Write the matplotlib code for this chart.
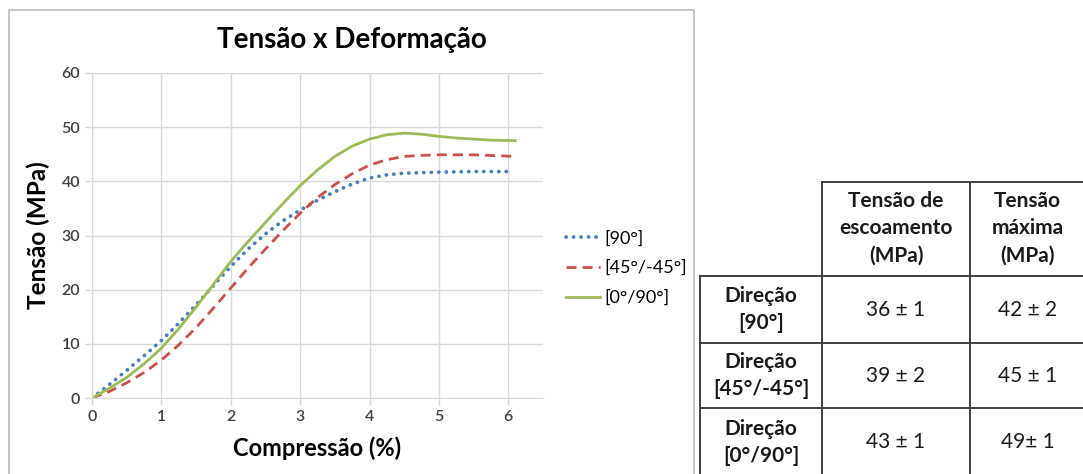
import matplotlib
matplotlib.use("Agg")
import matplotlib.pyplot as plt

plt.rcParams["font.family"] = ["Lato", "DejaVu Sans"]

# stress-strain curves (strain %, stress MPa)
x_90 = [0, 0.25, 0.5, 0.75, 1, 1.25, 1.5, 1.75, 2, 2.25, 2.5, 2.75, 3, 3.25,
        3.5, 3.75, 4, 4.25, 4.5, 5, 5.5, 6.05]
y_90 = [0, 2.5, 5.1, 7.8, 10.6, 13.8, 17.2, 20.8, 24.3, 27.5, 30.3, 32.7, 34.7,
        36.5, 38.1, 39.5, 40.6, 41.2, 41.5, 41.7, 41.8, 41.8]

x_45 = [0, 0.25, 0.5, 0.75, 1, 1.25, 1.5, 1.75, 2, 2.25, 2.5, 2.75, 3, 3.25,
        3.5, 3.75, 4, 4.25, 4.5, 4.75, 5, 5.5, 6.1]
y_45 = [0, 1.2, 2.8, 4.7, 7.0, 9.8, 13.0, 16.6, 20.3, 24.0, 27.5, 30.9, 34.1,
        37.0, 39.4, 41.4, 43.0, 44.0, 44.6, 44.8, 44.9, 44.9, 44.6]

x_0 = [0, 0.25, 0.5, 0.75, 1, 1.25, 1.5, 1.75, 2, 2.25, 2.5, 2.75, 3, 3.25,
       3.5, 3.75, 4, 4.25, 4.5, 4.75, 5, 5.25, 5.5, 5.75, 6.1]
y_0 = [0, 1.8, 3.8, 6.3, 9.2, 12.8, 16.8, 21.0, 25.2, 28.9, 32.4, 35.9, 39.2,
       42.1, 44.6, 46.5, 47.8, 48.6, 48.9, 48.7, 48.3, 48.0, 47.8, 47.6, 47.5]

series_labels = ["[90°]", "[45°/-45°]", "[0°/90°]"]

# table
col_headers = ["Tensão de\nescoamento\n(MPa)", "Tensão\nmáxima\n(MPa)"]
row_headers = ["Direção\n[90°]", "Direção\n[45°/-45°]", "Direção\n[0°/90°]"]
yield_vals = ["36 ± 1", "39 ± 2", "43 ± 1"]
max_vals = ["42 ± 2", "45 ± 1", "49± 1"]

W, H = 1083, 474
fig = plt.figure(figsize=(W / 100, H / 100), dpi=100)

# pixel overlay for the chart frame and the table
bg = fig.add_axes([0, 0, 1, 1], zorder=0)
bg.set_xlim(0, W)
bg.set_ylim(H, 0)
bg.axis("off")

bg.plot([9, 9, 694, 694], [H + 5, 10, 10, H + 5], color="#bfbfbf", lw=1.3)

# ---- chart ----
ax = fig.add_axes([92 / W, 1 - 398 / H, (543 - 92) / W, (398 - 73) / H], zorder=1)
ax.patch.set_alpha(0)
ax.plot(x_90, y_90, color="#4a7ebb", lw=2.7, linestyle=(0, (0.05, 1.95)),
        dash_capstyle="round", label=series_labels[0])
ax.plot(x_45, y_45, color="#c9504d", lw=2.0, linestyle=(0, (3.6, 2.2)),
        label=series_labels[1])
ax.plot(x_0, y_0, color="#9bbb59", lw=2.0, label=series_labels[2])

ax.set_xlim(0, 6.5)
ax.set_ylim(0, 60)
ax.set_xticks(range(0, 7))
ax.set_yticks(range(0, 61, 10))
ax.grid(True, color="#d9d9d9", lw=1.0)
for s in ("top", "right"):
    ax.spines[s].set_visible(False)
for s in ("left", "bottom"):
    ax.spines[s].set_color("#d9d9d9")
ax.tick_params(colors="#d9d9d9", labelcolor="#404040", labelsize=11.5,
               length=5, width=1)
for lbl in ax.get_xticklabels() + ax.get_yticklabels():
    lbl.set_fontweight("semibold")
ax.set_xlabel("Compressão (%)", fontsize=17, fontweight="bold", labelpad=9)
ax.set_ylabel("Tensão (MPa)", fontsize=17.5, fontweight="bold", labelpad=8)
fig.text(352 / W, 1 - 40 / H, "Tensão x Deformação", ha="center", va="center",
         fontsize=20, fontweight="bold")

ax.legend(loc="center left", bbox_to_anchor=(1.035, 0.40), frameon=False,
          fontsize=13, handlelength=1.9, handletextpad=0.25, labelspacing=0.75,
          borderaxespad=0)

# ---- table ----
line_kw = dict(color="#404040", lw=1.4)
c0, c1, c2, c3 = 700, 822, 970, W + 5
r0, r1, r2, r3, r4 = 182, 276, 343, 408, H + 5
bg.plot([c1, c3], [r0, r0], **line_kw)
for r in (r1, r2, r3):
    bg.plot([c0, c3], [r, r], **line_kw)
bg.plot([c0, c0], [r1, r4], **line_kw)
for c in (c1, c2):
    bg.plot([c, c], [r0, r4], **line_kw)

tk = dict(ha="center", va="center", fontsize=15, color="#1a1a1a",
          linespacing=1.45)
bg.text((c1 + c2) / 2, (r0 + r1) / 2 - 1, col_headers[0], fontweight="bold", **tk)
bg.text((c2 + W) / 2 + 1, (r0 + r1) / 2 - 1, col_headers[1], fontweight="bold", **tk)
rows = [(r1, r2), (r2, r3), (r3, H + 3)]
for (ra, rb), lab, yv, mv in zip(rows, row_headers, yield_vals, max_vals):
    ym = (ra + rb) / 2
    bg.text((c0 + c1) / 2, ym, lab, fontweight="bold", **tk)
    bg.text((c1 + c2) / 2, ym, yv, **tk)
    bg.text((c2 + W) / 2 + 1, ym, mv, **tk)

fig.savefig("out.png", dpi=100)
